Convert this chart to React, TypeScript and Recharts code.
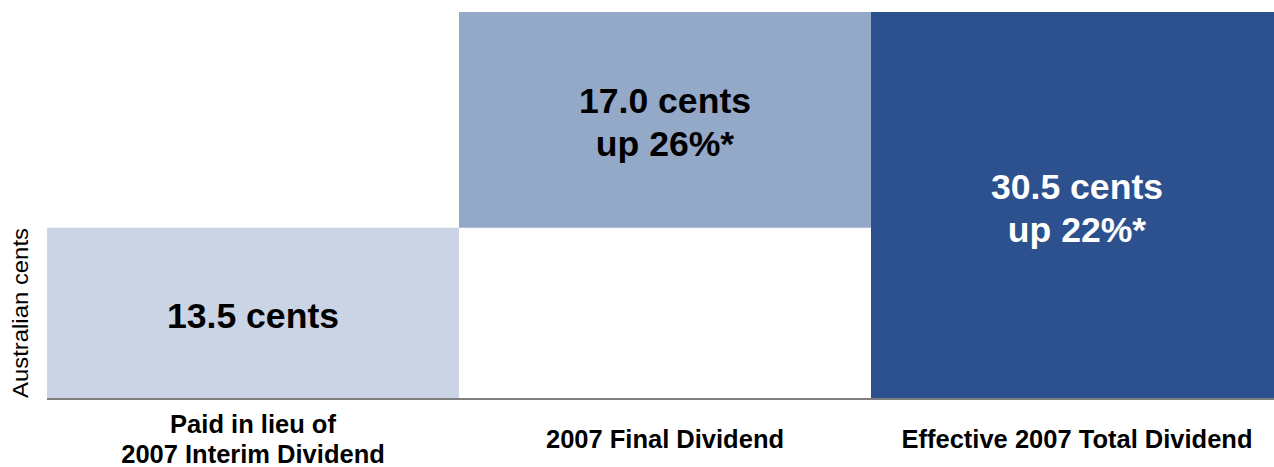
import { BarChart, Bar, XAxis, YAxis, Cell, LabelList } from "recharts";

const categories = ["Paid in lieu of\n2007 Interim Dividend", "2007 Final Dividend", "Effective 2007 Total Dividend"];
const baseValues = [0, 13.5, 0];
const dividendValues = [13.5, 17.0, 30.5];
const barLabels = ["13.5 cents", "17.0 cents\nup 26%*", "30.5 cents\nup 22%*"];
const barColors = ["#cad4e5", "#94a8c8", "#2d508e"];
const labelColors = ["#000000", "#000000", "#ffffff"];

const data = categories.map((name, i) => ({
  name,
  base: baseValues[i],
  value: dividendValues[i],
  label: barLabels[i],
}));

const FONT = "'Liberation Sans', Arial, sans-serif";

// multi-line category labels under the axis
const CategoryTick = (props: any) => {
  const { x, payload } = props;
  const lines = String(payload.value).split("\n");
  const lineH = 30;
  const start = 439 - ((lines.length - 1) * lineH) / 2;
  return (
    <g>
      {lines.map((ln, i) => (
        <text
          key={i}
          x={x}
          y={start + i * lineH}
          textAnchor="middle"
          dominantBaseline="central"
          fontFamily={FONT}
          fontWeight="bold"
          fontSize={25.5}
          fill="#000"
        >
          {ln}
        </text>
      ))}
    </g>
  );
};

const BarText = (props: any) => {
  const { x, y, width, height, index } = props;
  const lines = barLabels[index].split("\n");
  const lineH = 43;
  const cx = x + width / 2;
  const cy = y + height / 2 + 3;
  const start = cy - ((lines.length - 1) * lineH) / 2;
  return (
    <g>
      {lines.map((ln, i) => (
        <text
          key={i}
          x={cx}
          y={start + i * lineH}
          textAnchor="middle"
          dominantBaseline="central"
          fontFamily={FONT}
          fontWeight="bold"
          fontSize={35.6}
          fill={labelColors[index]}
        >
          {ln}
        </text>
      ))}
    </g>
  );
};

export default function App() {
  return (
    <div style={{ position: "absolute", left: 0, top: 0, width: 1274, height: 467, overflow: "hidden", background: "#fff" }}>
      <BarChart
        width={1284}
        height={467}
        data={data}
        margin={{ top: 12, right: 1, bottom: 0, left: 47 }}
        barCategoryGap={0}
      >
        <XAxis
          dataKey="name"
          axisLine={{ stroke: "#7f7f7f", strokeWidth: 2 }}
          tickLine={false}
          height={68}
          interval={0}
          tick={<CategoryTick />}
        />
        <YAxis hide domain={[0, 30.5]} />
        <Bar dataKey="base" stackId="w" fill="transparent" isAnimationActive={false} />
        <Bar dataKey="value" stackId="w" isAnimationActive={false}>
          {data.map((_, i) => (
            <Cell key={i} fill={barColors[i]} />
          ))}
          <LabelList dataKey="label" content={<BarText />} />
        </Bar>
      </BarChart>
      <svg style={{ position: "absolute", left: 0, top: 0 }} width={47} height={467}>
        <text
          transform="translate(20 313) rotate(-90)"
          textAnchor="middle"
          dominantBaseline="central"
          fontFamily={FONT}
          fontSize={22}
          textLength={170}
          lengthAdjust="spacingAndGlyphs"
          fill="#000"
        >
          Australian cents
        </text>
      </svg>
    </div>
  );
}
